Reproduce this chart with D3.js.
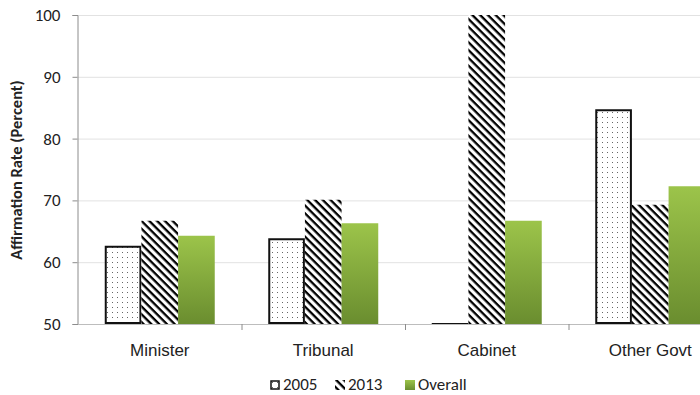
<!DOCTYPE html>
<html><head><meta charset="utf-8">
<script src="https://cdn.jsdelivr.net/npm/d3@7"></script>
<style>body{margin:0;background:#fff;}svg{display:block;font-family:Carlito,"Open Sans","Liberation Sans",sans-serif;}</style>
</head><body><svg id="c" width="700" height="395"></svg>
<script>
const categories = ["Minister","Tribunal","Cabinet","Other Govt"];
const seriesNames = ["2005","2013","Overall"];
const v2005 = [62.5, 63.7, 50.0, 84.6];
const v2013 = [66.7, 70.1, 100.0, 69.3];
const vOverall = [64.3, 66.3, 66.7, 72.3];
const yTicks = [50,60,70,80,90,100];

const svg = d3.select("#c");
const defs = svg.append("defs");
const dots = defs.append("pattern").attr("id","dots").attr("patternUnits","userSpaceOnUse").attr("width",5).attr("height",5);
dots.append("rect").attr("width",5).attr("height",5).attr("fill","#fff");
dots.append("rect").attr("x",2).attr("y",2).attr("width",1).attr("height",1).attr("fill","#666");
const hatch = defs.append("pattern").attr("id","hatch").attr("patternUnits","userSpaceOnUse").attr("width",5.5).attr("height",5.5).attr("patternTransform","rotate(45)");
hatch.append("rect").attr("width",5.5).attr("height",5.5).attr("fill","#fff");
hatch.append("rect").attr("x",0).attr("y",0).attr("width",5.5).attr("height",2.3).attr("fill","#000");
const grad = defs.append("linearGradient").attr("id","green").attr("x1",0).attr("y1",0).attr("x2",0).attr("y2",1);
grad.append("stop").attr("offset","0%").attr("stop-color","#9cc44a");
grad.append("stop").attr("offset","100%").attr("stop-color","#6a8d2f");

const x0 = 78, xEnd = 732;
const x = d3.scaleBand().domain(categories).range([x0, xEnd]).paddingInner(0).paddingOuter(0);
const xs = d3.scaleBand().domain(seriesNames).range([0, 110]);
const y = d3.scaleLinear().domain([50,100]).range([324,15]);

// gridlines
svg.append("g").selectAll("line").data(yTicks.slice(1)).join("line")
  .attr("x1",x0).attr("x2",700).attr("y1",d=>y(d)+0.5).attr("y2",d=>y(d)+0.5)
  .attr("stroke","#e2e2e2").attr("stroke-width",1);

const fills = {"2005":"url(#dots)","2013":"url(#hatch)","Overall":"url(#green)"};
const data = [];
categories.forEach((c,i)=>{
  data.push({c, s:"2005", v:v2005[i]});
  data.push({c, s:"2013", v:v2013[i]});
  data.push({c, s:"Overall", v:vOverall[i]});
});
const off = (x.bandwidth()-110)/2;
svg.append("g").selectAll("path").data(data).join("path")
  .attr("d",d=>{
    const b = d.s==="2005"?1:0;
    const xl = x(d.c)+off+xs(d.s)+b, w = xs.bandwidth()-2*b;
    const yt = y(d.v), yb = y(50)-b;
    return `M${xl},${yb}V${yt}H${xl+w}V${yb}` + (d.s==="2005" && yb-yt<1 ? "" : "Z");
  })
  .attr("fill",d=>fills[d.s])
  .attr("stroke",d=>d.s==="2005"?"#111":"none")
  .attr("stroke-width",2);

// y axis
const ya = svg.append("g").attr("transform",`translate(${x0-0.5},0)`)
  .call(d3.axisLeft(y).tickValues(yTicks).tickSize(5).tickPadding(12));
ya.select(".domain").attr("stroke","#8c8c8c");
ya.selectAll(".tick line").attr("stroke","#8c8c8c");
ya.selectAll("text").attr("font-size",17).attr("fill","#222").style("font-family",'Carlito,"Open Sans",sans-serif');

// x axis
const xa = svg.append("g").attr("transform",`translate(0,${y(50)+0.5})`)
  .call(d3.axisBottom(x).tickSize(0).tickPadding(19));
xa.select(".domain").attr("stroke","#bdbdbd").attr("d",`M${x0},0H700`);
xa.selectAll("text").attr("font-size",17).attr("fill","#222");
svg.append("g").selectAll("line").data(categories.slice(1)).join("line")
  .attr("x1",d=>x(d)+0.5).attr("x2",d=>x(d)+0.5).attr("y1",y(50)).attr("y2",y(50)+6)
  .attr("stroke","#8c8c8c");

// y label
svg.append("text").attr("transform","translate(18,170) rotate(-90)")
  .attr("text-anchor","middle").attr("dominant-baseline","middle").attr("font-size",16.5).attr("font-weight","bold").attr("fill","#222")
  .text("Affirmation Rate (Percent)");

// legend
const leg = svg.append("g").attr("transform","translate(270,385)");
const items = [{s:"2005",x:0},{s:"2013",x:65},{s:"Overall",x:135}];
items.forEach(it=>{
  const g = leg.append("g").attr("transform",`translate(${it.x},0)`);
  g.append("rect").attr("x",it.s==="2005"?1:0).attr("y",-5+(it.s==="2005"?1:0))
   .attr("width",it.s==="2005"?8:10).attr("height",it.s==="2005"?8:10)
   .attr("fill",fills[it.s]).attr("stroke",it.s==="2005"?"#111":"none").attr("stroke-width",1.5);
  g.append("text").attr("x",13).attr("y",0.5).attr("font-size",17).attr("fill","#222").attr("dominant-baseline","middle").text(it.s);
});
</script></body></html>
